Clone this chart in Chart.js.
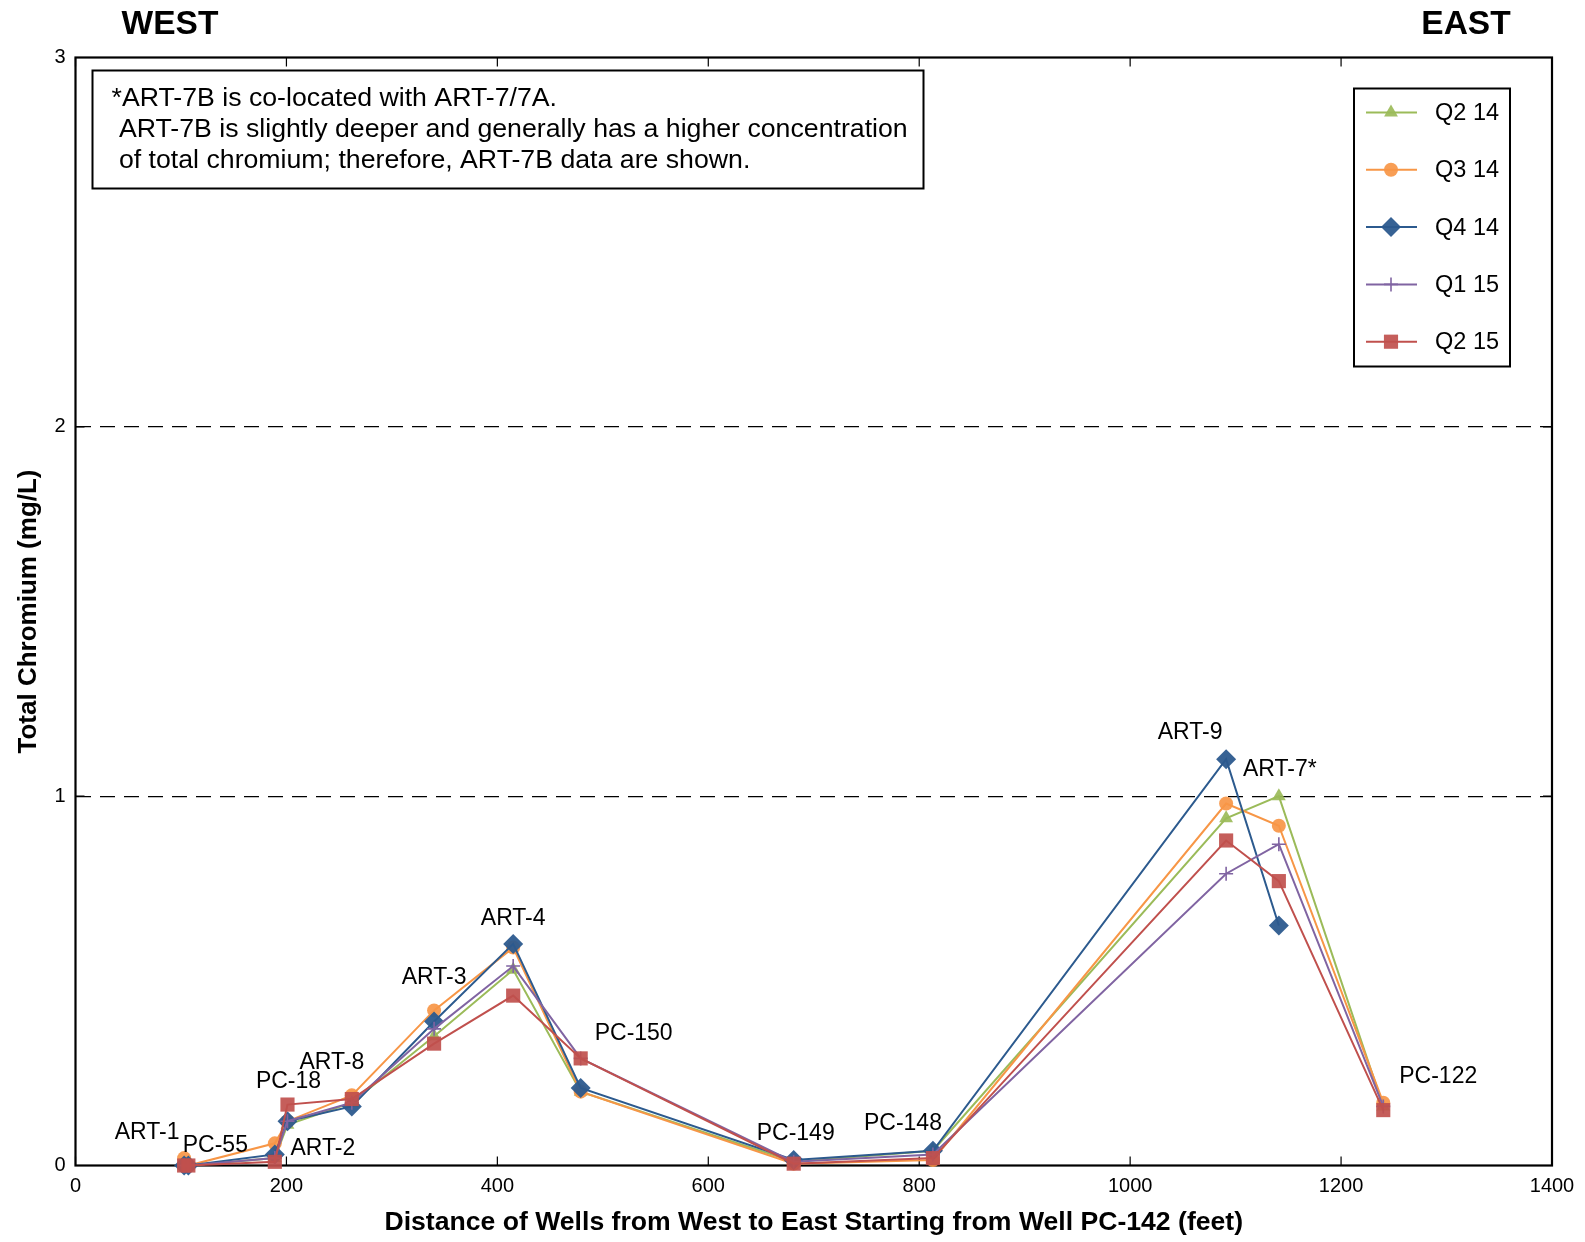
<!DOCTYPE html>
<html>
<head>
<meta charset="utf-8">
<script src="https://cdn.jsdelivr.net/npm/chart.js@4.4.1/dist/chart.umd.min.js"></script>
<style>
  html, body { margin: 0; padding: 0; background: #fff; }
  #wrap { width: 1585px; height: 1242px; position: relative; }
</style>
</head>
<body>
<div id="wrap"><canvas id="chromChart"></canvas></div>
<script>
// wells, west to east
const wells = ["ART-1", "PC-55", "ART-2", "PC-18", "ART-8", "ART-3", "ART-4", "PC-150", "PC-149", "PC-148", "ART-9", "ART-7*", "PC-122"];
const distance = [103, 107, 189, 201, 262, 340, 415, 479, 681, 813, 1091, 1141, 1240];

// total chromium (mg/L) per quarter
const q2_14 = [0.00, 0.00, 0.02, 0.11, 0.17, 0.35, 0.53, 0.20, 0.010, 0.040, 0.94, 1.00, 0.16];
const q3_14 = [0.02, 0.00, 0.06, 0.12, 0.19, 0.42, 0.59, 0.20, 0.005, 0.015, 0.98, 0.92, 0.17];
const q4_14 = [0.00, 0.00, 0.03, 0.12, 0.16, 0.39, 0.60, 0.21, 0.015, 0.040, 1.10, 0.65, null];
const q1_15 = [0.00, 0.00, 0.02, 0.12, 0.17, 0.37, 0.54, 0.29, 0.010, 0.030, 0.79, 0.87, 0.16];
const q2_15 = [0.00, 0.00, 0.01, 0.165, 0.18, 0.33, 0.46, 0.29, 0.005, 0.020, 0.88, 0.77, 0.15];

const seriesNames = ["Q2 14", "Q3 14", "Q4 14", "Q1 15", "Q2 15"];
const seriesValues = [q2_14, q3_14, q4_14, q1_15, q2_15];

const xTicks = [0, 200, 400, 600, 800, 1000, 1200, 1400];
const yTicks = [0, 1, 2, 3];

const noteLines = [
  "*ART-7B is co-located with ART-7/7A.",
  " ART-7B is slightly deeper and generally has a higher concentration",
  " of total chromium; therefore, ART-7B data are shown."
];

// styles
const colors = ["#9bbb59", "#f79646", "#2c5a8e", "#8064a2", "#c0504d"];
const fills = ["rgba(155,187,89,0.92)", "rgba(247,150,70,0.92)", "rgba(44,90,142,0.95)", "rgba(128,100,162,0.92)", "rgba(192,80,77,0.92)"];
const markers = ["triangle", "circle", "rectRot", "cross", "rect"];
const markerSize = [8, 7, 10, 7, 10];

// label offsets (px) from the top point of each well
const labelOffsets = [[-37, -25], [27, -20], [48, 5], [1, -23], [-20, -33], [0, -33], [0, -25],
  [53, -25], [2, -26], [-30, -27], [-36, -27], [1, -27], [55, -26]];

const FONT = "'Liberation Sans', Arial, sans-serif";
Chart.defaults.font.family = FONT;
Chart.defaults.color = "#000";

const datasets = seriesNames.map((name, k) => ({
  label: name,
  data: distance.map((d, i) => ({ x: d, y: seriesValues[k][i] })),
  showLine: true,
  spanGaps: false,
  tension: 0,
  borderColor: colors[k],
  backgroundColor: fills[k],
  borderWidth: 2,
  pointStyle: markers[k],
  pointRadius: markerSize[k],
  pointHoverRadius: markerSize[k],
  pointBackgroundColor: fills[k],
  pointBorderColor: colors[k],
  pointBorderWidth: markers[k] === "cross" ? 1.6 : 0,
  clip: false,
  order: -k
}));

function drawMarker(ctx, k, x, y) {
  ctx.fillStyle = fills[k];
  ctx.strokeStyle = colors[k];
  ctx.lineWidth = markers[k] === "cross" ? 1.6 : 0;
  Chart.helpers.drawPoint(ctx, {
    pointStyle: markers[k], radius: markerSize[k], rotation: 0,
    borderWidth: markers[k] === "cross" ? 1.6 : 0
  }, x, y);
}

const framePlugin = {
  id: "frame",
  beforeDatasetsDraw(chart) {
    const { ctx, chartArea: a, scales: { x, y } } = chart;
    ctx.save();
    ctx.strokeStyle = "#000";
    ctx.lineWidth = 1.2;
    ctx.beginPath();
    xTicks.forEach(v => {
      const px = x.getPixelForValue(v);
      ctx.moveTo(px, a.bottom); ctx.lineTo(px, a.bottom - 9);
      ctx.moveTo(px, a.top); ctx.lineTo(px, a.top + 9);
    });
    yTicks.forEach(v => {
      const py = y.getPixelForValue(v);
      ctx.moveTo(a.left, py); ctx.lineTo(a.left + 9, py);
      ctx.moveTo(a.right, py); ctx.lineTo(a.right - 9, py);
    });
    ctx.stroke();
    ctx.lineWidth = 2.2;
    ctx.strokeRect(a.left, a.top, a.width, a.height);
    ctx.restore();
  }
};

const labelPlugin = {
  id: "wellLabels",
  afterDatasetsDraw(chart) {
    const { ctx, chartArea: a, scales: { x, y } } = chart;
    ctx.save();
    ctx.fillStyle = "#000";
    ctx.font = "23px " + FONT;
    ctx.textAlign = "center";
    ctx.textBaseline = "middle";
    wells.forEach((w, i) => {
      const top = Math.max(...seriesValues.map(s => s[i] == null ? 0 : s[i]));
      ctx.fillText(w, x.getPixelForValue(distance[i]) + labelOffsets[i][0],
        y.getPixelForValue(top) + labelOffsets[i][1]);
    });

    // WEST / EAST
    ctx.font = "bold 33.5px " + FONT;
    ctx.fillText("WEST", 170, 25);
    ctx.fillText("EAST", 1466, 25);

    // note box
    ctx.fillStyle = "#fff";
    ctx.fillRect(a.left + 17, a.top + 13, 831, 118);
    ctx.strokeStyle = "#000";
    ctx.lineWidth = 2;
    ctx.strokeRect(a.left + 17, a.top + 13, 831, 118);
    ctx.fillStyle = "#000";
    ctx.font = "26.7px " + FONT;
    ctx.textAlign = "left";
    noteLines.forEach((t, i) => {
      ctx.fillText(t, a.left + 36, a.top + 41 + i * 31);
    });
    ctx.restore();
  },
  afterDraw(chart) {
    const { ctx, chartArea: a } = chart;
    const w = 156, h = 278;
    const left = a.right - 42 - w, top = a.top + 31;
    ctx.save();
    ctx.fillStyle = "#fff";
    ctx.fillRect(left, top, w, h);
    ctx.strokeStyle = "#000";
    ctx.lineWidth = 2;
    ctx.strokeRect(left, top, w, h);
    ctx.font = "23.5px " + FONT;
    ctx.textBaseline = "middle";
    ctx.textAlign = "left";
    seriesNames.forEach((name, k) => {
      const cy = top + 24 + k * 57.3;
      ctx.strokeStyle = colors[k];
      ctx.lineWidth = 2;
      ctx.beginPath();
      ctx.moveTo(left + 12, cy);
      ctx.lineTo(left + 63, cy);
      ctx.stroke();
      drawMarker(ctx, k, left + 37, cy);
      ctx.fillStyle = "#000";
      ctx.fillText(name, left + 81, cy + 1);
    });
    ctx.restore();
  }
};

new Chart(document.getElementById("chromChart"), {
  type: "scatter",
  data: { datasets },
  options: {
    responsive: true,
    maintainAspectRatio: false,
    animation: false,
    layout: { padding: { top: 57.5, right: 33, left: 0, bottom: 0 } },
    plugins: { legend: { display: false }, tooltip: { enabled: false } },
    scales: {
      x: {
        type: "linear",
        min: 0, max: 1400,
        afterFit(scale) { scale.height = 76.5; },
        afterBuildTicks(scale) { scale.ticks = xTicks.map(v => ({ value: v })); },
        ticks: { font: { size: 20 }, color: "#000", padding: 9, maxRotation: 0, callback: v => String(v) },
        grid: { display: false, drawTicks: false },
        border: { display: false },
        title: {
          display: true,
          text: "Distance of Wells from West to East Starting from Well PC-142 (feet)",
          font: { size: 26.6, weight: "bold", lineHeight: 1.2 },
          color: "#000",
          padding: { top: 0, bottom: 3 }
        }
      },
      y: {
        min: 0, max: 3,
        afterFit(scale) { scale.width = 75.5; },
        afterBuildTicks(scale) { scale.ticks = yTicks.map(v => ({ value: v })); },
        ticks: { font: { size: 20 }, color: "#000", padding: 10, callback: v => String(v) },
        grid: {
          drawTicks: false,
          color: ctx => (ctx.tick && (ctx.tick.value === 1 || ctx.tick.value === 2)) ? "#000" : "rgba(0,0,0,0)",
          lineWidth: 1.3
        },
        border: { display: false, dash: [15, 9] },
        title: {
          display: true,
          text: "Total Chromium (mg/L)",
          font: { size: 26, weight: "bold", lineHeight: 1.2 },
          color: "#000",
          padding: { top: 13, bottom: 0 }
        }
      }
    }
  },
  plugins: [framePlugin, labelPlugin]
});
</script>
</body>
</html>
